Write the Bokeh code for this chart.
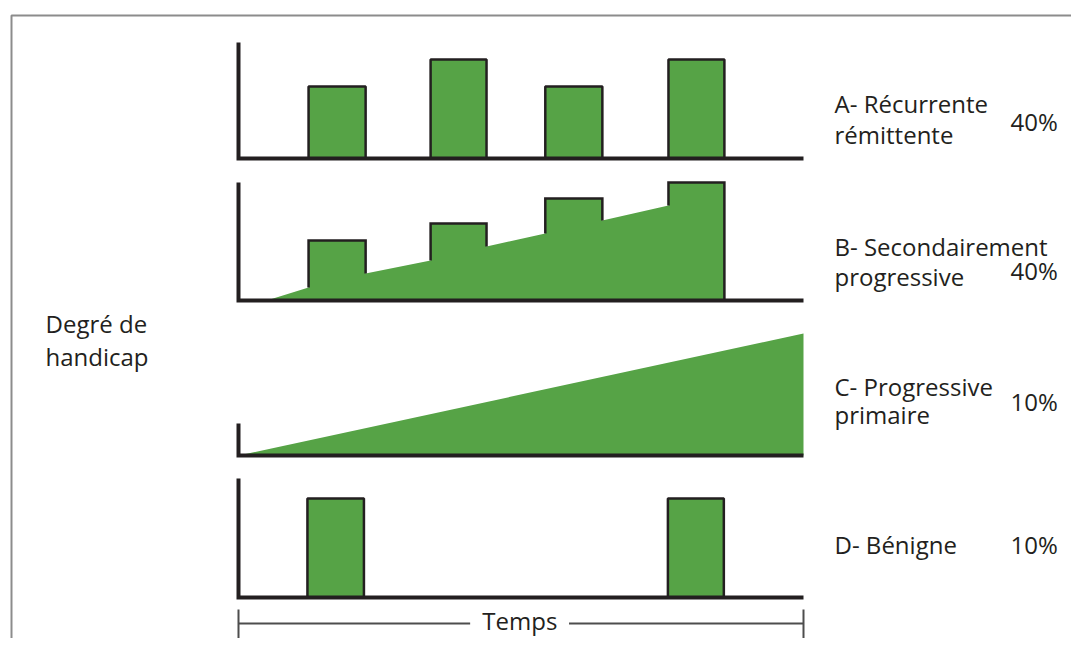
from bokeh.plotting import figure
from bokeh.models import Range1d
from bokeh.core.properties import value
from bokeh.embed import file_html
from bokeh.resources import INLINE

# ---------------- data (time 0..100, degree of handicap in units) ----------------
# A - relapsing-remitting
a_start = [12.4, 34.0, 54.3, 76.1]
a_end = [22.5, 43.9, 64.4, 86.0]
a_height = [72, 99, 72, 99]
a_axis_height = 116

# B - secondary progressive : steps on top of a rising baseline
b_ramp_start = 5.0
b_step_start = [12.4, 34.0, 54.3, 76.1]
b_step_end = [22.5, 43.9, 64.4, 86.0]
b_ramp_at_start = [13, 40, 67, 95]   # ramp level at each step's left edge
b_ramp_at_end = [27, 54, 80, 0]      # ramp level after each step (last one falls to 0)
b_step_top = [60, 77, 102, 118]
b_axis_height = 118

# C - primary progressive
c_time = [0, 100]
c_level = [0, 122]
c_axis_height = 32

# D - benign
d_start = [12.2, 76.0]
d_end = [22.2, 85.9]
d_height = [99, 99]
d_axis_height = 119

label_line1 = ["A- Récurrente", "B- Secondairement", "C- Progressive", "D- Bénigne"]
label_line2 = ["rémittente", "progressive", "primaire", ""]
percents = ["40%", "40%", "10%", "10%"]
y_label = ["Degré de", "handicap"]
x_label = "Temps"

# ---------------- layout ----------------
W, H = 1071, 638
X0S, X1S = 238, 803                  # picture x of time 0 and time 100
SCALE = (X1S - X0S) / 100.0
TXT_OFF = 9                          # rendered baseline sits lower than requested


def tx(sx):
    return (sx - X0S) / SCALE


def ty(sy):
    return H - sy


def tb(sy):
    return H - (sy - TXT_OFF)


bases = [ty(158), ty(300), ty(455), ty(597)]

GREEN = "#56a346"
DARK = "#231f20"
FONT = value("Open Sans")
FS = "24px"

p = figure(width=W, height=H, x_range=Range1d(tx(0), tx(W)), y_range=Range1d(0, H),
           output_backend="svg", toolbar_location=None, min_border=0,
           x_axis_type=None, y_axis_type=None)
p.grid.visible = False
p.outline_line_color = None
p.background_fill_color = "white"

# outer frame (top and left edges)
p.line([tx(11), tx(11), tx(1090)], [ty(660), ty(15), ty(15)], line_color="#8c8c8c", line_width=2)

# ---- panel A ----
bA = bases[0]
p.quad(left=a_start, right=a_end, bottom=[bA] * 4, top=[bA + h for h in a_height],
       fill_color=GREEN, line_color=DARK, line_width=2.5)

# ---- panel B ----
bB = bases[1]
xs = [b_ramp_start]
ys = [bB]
for s, e, r0, r1, t in zip(b_step_start, b_step_end, b_ramp_at_start, b_ramp_at_end, b_step_top):
    xs += [s, s, e, e]
    ys += [bB + r0, bB + t, bB + t, bB + r1]
p.patch(xs, ys, fill_color=GREEN, line_color=None)
ol_x, ol_y = [], []
for s, e, r0, r1, t in zip(b_step_start, b_step_end, b_ramp_at_start, b_ramp_at_end, b_step_top):
    ol_x.append([s, s, e, e])
    ol_y.append([bB + r0, bB + t, bB + t, bB + r1])
p.multi_line(ol_x, ol_y, line_color=DARK, line_width=2.5, line_join="miter")

# ---- panel C ----
bC = bases[2]
p.patch([c_time[0], c_time[1], c_time[1]], [bC + c_level[0], bC + c_level[1], bC],
        fill_color=GREEN, line_color=None)

# ---- panel D ----
bD = bases[3]
p.quad(left=d_start, right=d_end, bottom=[bD] * 2, top=[bD + h for h in d_height],
       fill_color=GREEN, line_color=DARK, line_width=2.5)

# ---- axes of each panel ----
for b, ah in zip(bases, [a_axis_height, b_axis_height, c_axis_height, d_axis_height]):
    p.line([0, 0, 100], [b + ah, b, b], line_color=DARK, line_width=4, line_join="miter")

# ---- time arrow ----
yT = ty(623)
p.multi_line([[0, 41], [58.5, 100], [0, 0], [100, 100]],
             [[yT, yT], [yT, yT], [ty(609), ty(660)], [ty(609), ty(660)]],
             line_color="#4d4d4d", line_width=2)
p.text(x=[49.8], y=[tb(629)], text=[x_label], text_font=FONT, text_font_size=FS,
       text_align="center", text_baseline="alphabetic", text_color=DARK)

# ---- labels ----
line1_y = [tb(112), tb(255), tb(395), tb(553)]
line2_y = [tb(143), tb(285), tb(423), tb(580)]
pct_y = [tb(130), tb(279), tb(410), tb(553)]
p.text(x=[tx(834)] * 4, y=line1_y, text=label_line1, text_font=FONT, text_font_size=FS,
       text_align="left", text_baseline="alphabetic", text_color=DARK)
p.text(x=[tx(834)] * 4, y=line2_y, text=label_line2, text_font=FONT, text_font_size=FS,
       text_align="left", text_baseline="alphabetic", text_color=DARK)
p.text(x=[tx(1010)] * 4, y=pct_y, text=percents, text_font=FONT, text_font_size=FS,
       text_align="left", text_baseline="alphabetic", text_color=DARK)
p.text(x=[tx(45)] * 2, y=[tb(332), tb(365)], text=y_label, text_font=FONT, text_font_size=FS,
       text_align="left", text_baseline="alphabetic", text_color=DARK)

open("out.html", "w").write(file_html(p, INLINE))
